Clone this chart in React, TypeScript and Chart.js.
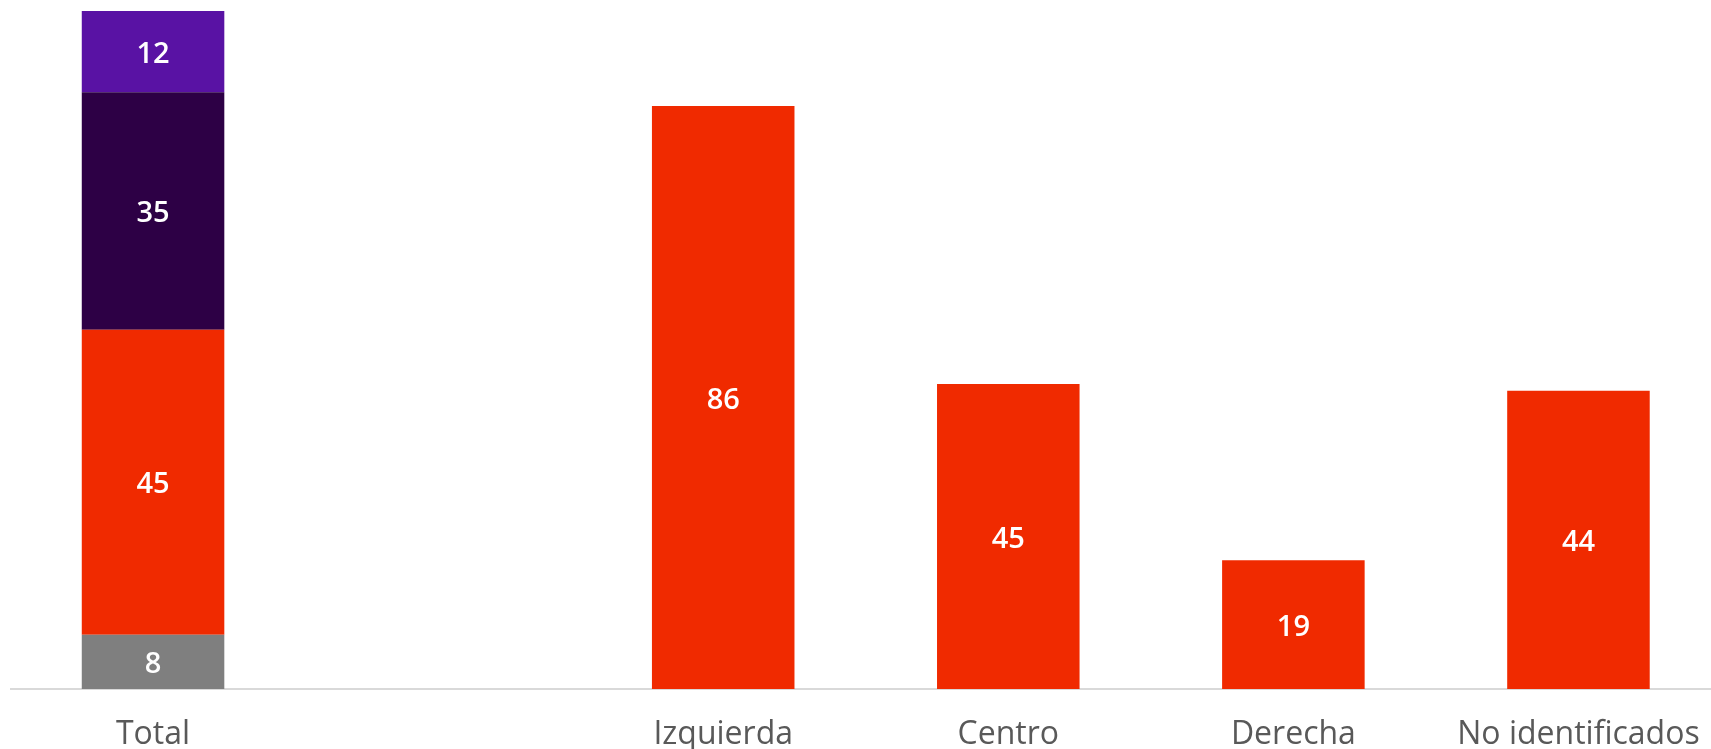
import React, { useEffect, useRef } from "react";
import { Chart, registerables } from "chart.js";

Chart.register(...registerables);

const categories = ["Total", "", "Izquierda", "Centro", "Derecha", "No identificados"];
const grayValues = [8, null, null, null, null, null];
const redValues = [45, null, 86, 45, 19, 44];
const darkValues = [35, null, null, null, null, null];
const purpleValues = [12, null, null, null, null, null];

const FONT = "'Open Sans', sans-serif";

const labelPlugin = {
  id: "valueLabels",
  afterDatasetsDraw(chart: any) {
    const ctx = chart.ctx;
    ctx.save();
    ctx.fillStyle = "#ffffff";
    ctx.font = `600 29px ${FONT}`;
    ctx.textAlign = "center";
    ctx.textBaseline = "middle";
    chart.data.datasets.forEach((ds: any, di: number) => {
      const meta = chart.getDatasetMeta(di);
      meta.data.forEach((el: any, i: number) => {
        const v = ds.data[i];
        if (v === null || v === undefined) return;
        const props = el.getProps(["x", "y", "base"], true);
        ctx.fillText(String(v), props.x, (props.y + props.base) / 2 + 3);
      });
    });
    ctx.restore();
  },
};

export default function App() {
  const ref = useRef<HTMLCanvasElement>(null);
  useEffect(() => {
    document.body.style.margin = "0";
    document.body.style.overflow = "hidden";
    const chart = new Chart(ref.current!, {
      type: "bar",
      data: {
        labels: categories,
        datasets: [
          { label: "gray", data: grayValues, backgroundColor: "#7f7f7f" },
          { label: "red", data: redValues, backgroundColor: "#f02a00" },
          { label: "dark", data: darkValues, backgroundColor: "#2d0045" },
          { label: "purple", data: purpleValues, backgroundColor: "#5912a4" },
        ] as any,
      },
      options: {
        animation: false,
        responsive: false,
        maintainAspectRatio: false,
        layout: { padding: { left: 10.5, top: 11, right: 0, bottom: 0 } },
        datasets: { bar: { barPercentage: 1, categoryPercentage: 0.5 } } as any,
        plugins: { legend: { display: false }, tooltip: { enabled: false } },
        scales: {
          x: {
            stacked: true,
            grid: { display: false, drawTicks: false },
            border: { display: true, color: "#d9d9d9", width: 2 },
            ticks: {
              color: "#595959",
              font: { family: FONT, size: 32 },
              padding: 27,
              maxRotation: 0,
              autoSkip: false,
            },
            afterFit: (s: any) => {
              s.height = 60;
              s.paddingLeft = 0;
              s.paddingRight = 0;
            },
          },
          y: {
            stacked: true,
            display: false,
            min: 0,
            max: 100,
          },
        },
      },
      plugins: [labelPlugin],
    });
    return () => chart.destroy();
  }, []);
  return (
    <div style={{ position: "fixed", left: 0, top: 0, width: "100vw", height: "100vh", overflow: "hidden", background: "#fff" }}>
      <div style={{ position: "absolute", left: 0, top: 0, width: 1721, height: 749 }}>
        <canvas ref={ref} width={1721} height={749} style={{ width: 1721, height: 749 }} />
      </div>
    </div>
  );
}
